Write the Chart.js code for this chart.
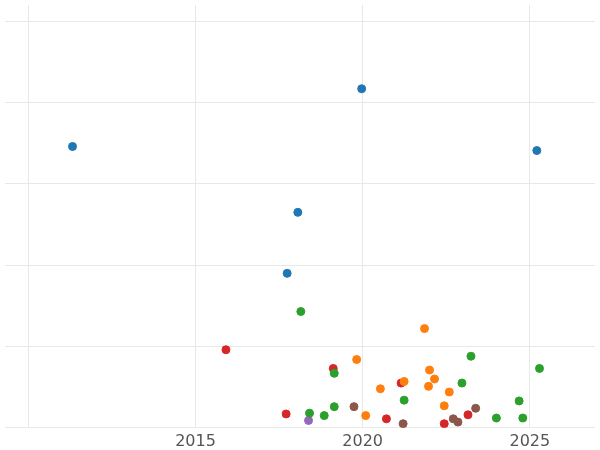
<!DOCTYPE html>
<html><head><script src="https://cdn.jsdelivr.net/npm/chart.js@4"></script>
<style>html,body{margin:0;padding:0;background:#fff}#w{width:600px;height:450px}</style></head>
<body><div id="w"><canvas id="c"></canvas></div>
<script>
const xTicks=[2010,2015,2020,2025];
const blueX=[2011.32,2019.97,2025.21,2018.06,2017.74], blueY=[3.46,4.17,3.41,2.65,1.90];
const redX=[2015.91,2019.12,2017.71,2020.71,2021.15,2022.44,2023.15], redY=[0.96,0.73,0.17,0.11,0.55,0.05,0.16];
const greenX=[2018.15,2019.15,2023.24,2025.29,2022.97,2021.24,2019.15,2018.41,2018.85,2024.68,2024.0,2024.79], greenY=[1.43,0.67,0.88,0.73,0.55,0.34,0.26,0.18,0.15,0.33,0.12,0.12];
const orangeX=[2021.85,2019.82,2022.0,2022.15,2021.97,2021.24,2020.53,2022.59,2022.44,2020.09], orangeY=[1.22,0.84,0.71,0.6,0.51,0.57,0.48,0.44,0.27,0.15];
const brownX=[2019.74,2021.21,2022.71,2022.85,2023.38], brownY=[0.26,0.05,0.11,0.07,0.24];
const purpleX=[2018.38], purpleY=[0.09];
function pts(xs,ys){return xs.map((x,i)=>({x:x,y:ys[i]}));}
const series=[[orangeX,orangeY,'#ff7f0e'],[greenX,greenY,'#2ca02c'],[redX,redY,'#d62728'],[brownX,brownY,'#8c564b'],[purpleX,purpleY,'#9467bd'],[blueX,blueY,'#1f77b4']];
new Chart(document.getElementById('c'),{type:'scatter',
data:{datasets:series.map(s=>({data:pts(s[0],s[1]),backgroundColor:s[2],borderColor:s[2],pointRadius:4,pointHoverRadius:4}))},
options:{responsive:true,maintainAspectRatio:false,animation:false,
layout:{padding:{left:-5,right:-5,top:-5,bottom:-5}},
plugins:{legend:{display:false},tooltip:{enabled:false}},
scales:{
x:{type:'linear',min:2009.3,max:2026.95,afterBuildTicks:a=>{a.ticks=xTicks.map(v=>({value:v}));},
grid:{color:'#e8e8e8',drawTicks:false},border:{display:false},
ticks:{padding:4,color:'#555',font:{family:'DejaVu Sans',size:16},callback:v=>v===2010?'':String(v)}},
y:{min:0,max:5.2,afterBuildTicks:a=>{a.ticks=[0,1,2,3,4,5].map(v=>({value:v}));},
grid:{color:'#e8e8e8',drawTicks:false},border:{display:false},
ticks:{display:false}}}}});
</script></body></html>
